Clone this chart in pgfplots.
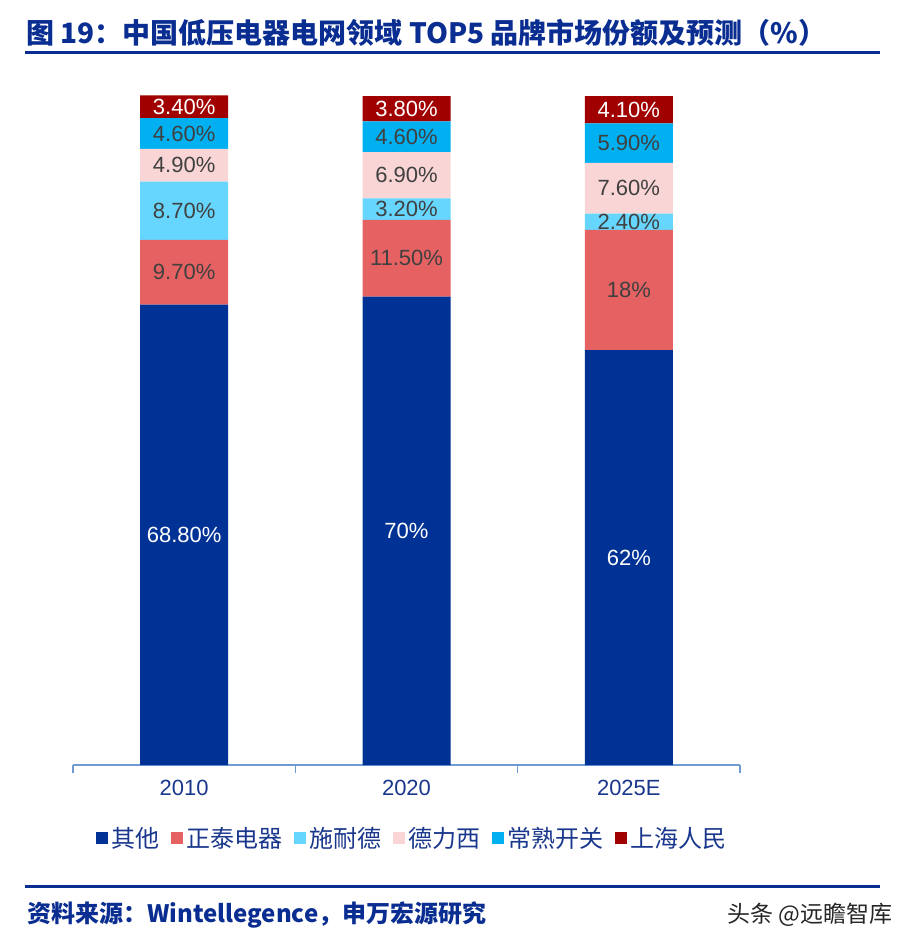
\documentclass[border=0pt]{standalone}
\usepackage{fontspec}
\setmainfont{Liberation Sans}
\newfontfamily\cjk{Noto Sans CJK SC}
\usepackage{pgfplots}
\usepackage{pgfplotstable}
\pgfplotsset{compat=1.18}

\definecolor{cQita}{RGB}{0,50,150}
\definecolor{cZhengtai}{RGB}{230,97,98}
\definecolor{cSchneider}{RGB}{102,214,255}
\definecolor{cDelixi}{RGB}{249,213,213}
\definecolor{cChangshu}{RGB}{0,176,240}
\definecolor{cShanghai}{RGB}{160,0,0}
\definecolor{titleblue}{RGB}{10,45,145}
\definecolor{labgray}{RGB}{64,64,64}
\definecolor{axiscol}{RGB}{110,155,210}
\definecolor{ticktext}{RGB}{25,55,140}

% values per series: x, share, printed label
\pgfplotstableread{
x v l
0 68.8 68.80
1 70 70
2 62 62
}\tQita
\pgfplotstableread{
x v l
0 9.7 9.70
1 11.5 11.50
2 18 18
}\tZhengtai
\pgfplotstableread{
x v l
0 8.7 8.70
1 3.2 3.20
2 2.4 2.40
}\tSchneider
\pgfplotstableread{
x v l
0 4.9 4.90
1 6.9 6.90
2 7.6 7.60
}\tDelixi
\pgfplotstableread{
x v l
0 4.6 4.60
1 4.6 4.60
2 5.9 5.90
}\tChangshu
\pgfplotstableread{
x v l
0 3.4 3.40
1 3.8 3.80
2 4.1 4.10
}\tShanghai

\begin{document}
\begin{tikzpicture}
\useasboundingbox (0,0) rectangle (914pt,-945pt);

% title and rules
\node[anchor=base west, inner sep=0pt, text=titleblue, font=\cjk\bfseries\fontsize{28}{28}\selectfont]
  at (26pt,-43pt) {图 19：中国低压电器电网领域 TOP5 品牌市场份额及预测（\%）};
\draw[titleblue, line width=3pt] (25pt,-52pt) -- (880pt,-52pt);
\draw[titleblue, line width=3pt] (25pt,-886pt) -- (880pt,-886pt);
\node[anchor=base west, inner sep=0pt, text=titleblue, font=\cjk\bfseries\fontsize{24}{24}\selectfont]
  at (27pt,-922pt) {资料来源：Wintellegence，申万宏源研究};
\node[anchor=base west, inner sep=0pt, text=black!85, font=\cjk\fontsize{23}{23}\selectfont]
  at (727pt,-922pt) {头条 @远瞻智库};

\begin{axis}[
  at={(73pt,-765pt)}, anchor=south west,
  scale only axis, width=667pt, height=669pt,
  xmin=-0.5, xmax=2.5, ymin=0, ymax=100,
  clip=false,
  ybar stacked, bar width=88pt,
  axis x line*=bottom, axis y line=none,
  x axis line style={-, axiscol, line width=1.5pt},
  xtick={0,1,2}, xticklabels={2010,2020,2025E},
  major tick length=0pt,
  xticklabel style={font=\fontsize{22}{22}\selectfont, text=ticktext, yshift=-12pt},
  extra x ticks={-0.5,0.5,1.5,2.5}, extra x tick labels={},
  extra x tick style={major tick length=8pt, tick align=outside,
    tick style={axiscol, line width=1.5pt}},
  ytick=\empty,
  point meta=explicit symbolic,
  nodes near coords={\pgfplotspointmeta\%},
  every node near coord/.append style={anchor=center, inner sep=0pt,
    font=\fontsize{22}{22}\selectfont, text=labgray},
  legend columns=6,
  legend style={at={(axis description cs:0.509,-0.109)}, anchor=center,
    draw=none, fill=none, font=\cjk\fontsize{24}{24}\selectfont, text=ticktext,
    nodes={inner xsep=3pt},
    /tikz/every even column/.append style={column sep=9pt}},
  legend image code/.code={\fill[#1] (0pt,-6pt) rectangle (12pt,6pt);},
]
\addplot[fill=cQita, draw=none, every node near coord/.append style={text=white}]
  table[x=x, y=v, meta=l] {\tQita};
\addplot[fill=cZhengtai, draw=none] table[x=x, y=v, meta=l] {\tZhengtai};
\addplot[fill=cSchneider, draw=none] table[x=x, y=v, meta=l] {\tSchneider};
\addplot[fill=cDelixi, draw=none] table[x=x, y=v, meta=l] {\tDelixi};
\addplot[fill=cChangshu, draw=none] table[x=x, y=v, meta=l] {\tChangshu};
\addplot[fill=cShanghai, draw=none, every node near coord/.append style={text=white}]
  table[x=x, y=v, meta=l] {\tShanghai};
\legend{其他,正泰电器,施耐德,德力西,常熟开关,上海人民}
\end{axis}
\end{tikzpicture}
\end{document}
